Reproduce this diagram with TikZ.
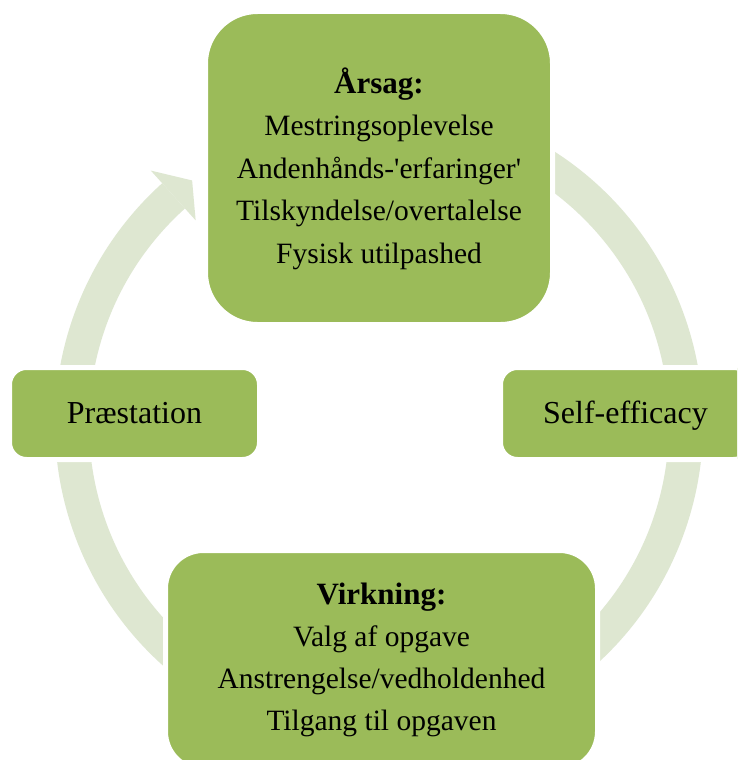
\documentclass[tikz,border=0pt]{standalone}
\usepackage{fontspec}
\setmainfont{Liberation Serif}
\definecolor{boxgreen}{HTML}{9BBB59}
\definecolor{ringgreen}{HTML}{DEE7D1}
\tikzset{
  cyclebox/.style={fill=boxgreen, draw=white, line width=5pt, inner sep=0pt, align=center, text=black},
  bigfont/.style={font={\fontsize{29.5}{42.5}\selectfont}},
  sidefont/.style={font={\fontsize{32}{38}\selectfont}},
  ringpart/.style={fill=ringgreen, draw=none}
}
\begin{document}
\begin{tikzpicture}[x=1pt,y=-1pt]
\clip (0,0) rectangle (737,760);
\fill[white] (0,0) rectangle (737,760);
\coordinate (ctr) at (379,424);
% circular arrow behind the boxes
\fill[ringpart] ([shift={(ctr)}]-70:324) arc[start angle=-70, end angle=228, radius=324]
  -- ([shift={(ctr)}]228:290) arc[start angle=228, end angle=-70, radius=290] -- cycle;
\fill[ringpart] ([shift={(ctr)}]228:341) -- ([shift={(ctr)}]232.5:307) -- ([shift={(ctr)}]228:274) -- cycle;
% boxes
\node[cyclebox, bigfont, rounded corners=52pt, minimum width=347pt, minimum height=313pt] (cause) at (379,168)
  {{\fontsize{31}{42.5}\selectfont\bfseries\rule{0pt}{40pt}Årsag:}\\Mestringsoplevelse\\Andenhånds-\textquotesingle erfaringer\textquotesingle\\Tilskyndelse/overtalelse\\Fysisk utilpashed\rule[-20pt]{0pt}{20pt}};
\node[cyclebox, sidefont, rounded corners=17pt, minimum width=250pt, minimum height=92pt] (perf) at (134.5,413.5)
  {\rule[-11pt]{0pt}{41pt}Præstation};
\node[cyclebox, sidefont, rounded corners=17pt, minimum width=250pt, minimum height=92pt] (self) at (625.5,413.5)
  {\rule[-11pt]{0pt}{41pt}Self-efficacy};
\node[cyclebox, font={\fontsize{29.5}{41.7}\selectfont}, rounded corners=38pt, minimum width=432pt, minimum height=219pt] (effect) at (381.5,660)
  {{\fontsize{31}{41.7}\selectfont\bfseries\rule{0pt}{40pt}Virkning:}\\Valg af opgave\\Anstrengelse/vedholdenhed\\Tilgang til opgaven\rule[-25pt]{0pt}{25pt}};
\end{tikzpicture}
\end{document}
